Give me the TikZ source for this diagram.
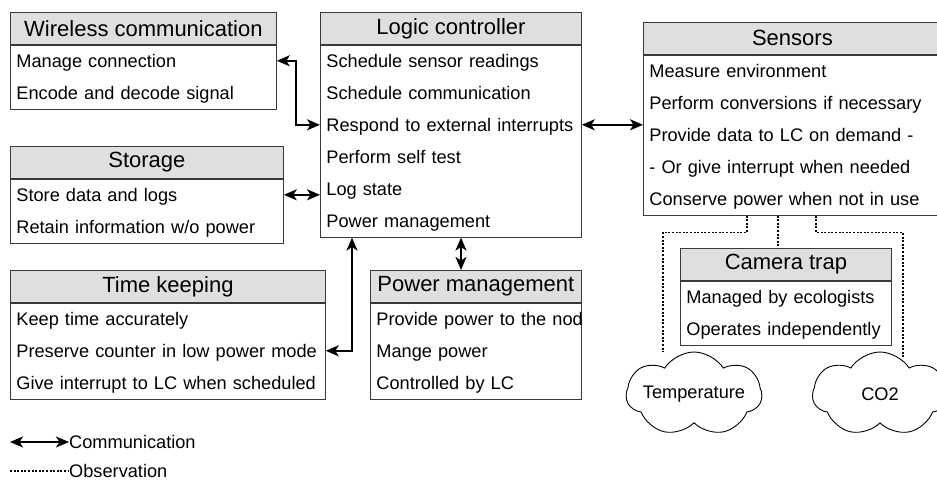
\documentclass[tikz,border=0pt]{standalone}
\usepackage{fontspec}
\setmainfont{Liberation Sans}
\usepackage{xcolor}
\usepackage{tikz}
\usetikzlibrary{arrows.meta,positioning,shapes.symbols}

\definecolor{headgray}{HTML}{DFDFDF}
\definecolor{boxline}{HTML}{3A3A3A}

\newcommand{\headfont}{\fontsize{22}{26}\selectfont}
\newcommand{\bodyfont}{\fontsize{18.2}{32}\selectfont}

\begin{document}
\begin{tikzpicture}[
  x=1pt, y=-1pt,
  node distance=0pt,
  head/.style={draw=boxline,line width=0.8pt,fill=headgray,anchor=north west,minimum height=32pt,inner sep=0pt,font=\headfont},
  body/.style={draw=boxline,line width=0.8pt,fill=white,align=left,inner xsep=6pt,inner ysep=0pt,font=\bodyfont,
    execute at begin node=\strut,execute at end node=\strut},
  comm/.style={{Stealth[length=13pt,width=11pt,inset=3.5pt]}-{Stealth[length=13pt,width=11pt,inset=3.5pt]},line width=1.8pt},
  obs/.style={line width=1.8pt,dash pattern=on 2pt off 1.6pt},
  sky/.style={cloud,cloud puffs=7,cloud puff arc=115,cloud ignores aspect,draw,line width=0.9pt,minimum width=135pt,minimum height=84pt,inner sep=0pt,font=\bodyfont}
]
\useasboundingbox (0,0) rectangle (937,481);
\clip (0,0) rectangle (937,481);

% function blocks
\node[head, minimum width=266pt] (wifihead) at (10,12) {Wireless communication};
\node[body, text width=254pt, below=of wifihead] (wifibody) {Manage connection\\Encode and decode signal};

\node[head, minimum width=261pt] (logichead) at (320,12) {Logic controller};
\node[body, text width=249pt, below=of logichead] (logicbody) {Schedule sensor readings\\Schedule communication\\Respond to external interrupts\\Perform self test\\Log state\\Power management};

\node[head, minimum width=298pt] (sensorshead) at (643,22) {Sensors};
\node[body, text width=286pt, below=of sensorshead] (sensorsbody) {Measure environment\\Perform conversions if necessary\\Provide data to LC on demand -\\- Or give interrupt when needed\\Conserve power when not in use};

\node[head, minimum width=273pt] (storagehead) at (10,146) {Storage};
\node[body, text width=261pt, below=of storagehead] (storagebody) {Store data and logs\\Retain information w/o power};

\node[head, minimum width=315pt] (timehead) at (10,270) {Time keeping};
\node[body, text width=303pt, below=of timehead] (timebody) {Keep time accurately\\Preserve counter in low power mode\\Give interrupt to LC when scheduled};

% the first line runs past the box edge and is cut off there
\node[head, minimum width=211pt] (powerhead) at (370,270) {Power management};
\begin{scope}
  \clip ([xshift=-1pt]powerhead.south west) rectangle ([xshift=0.4pt,yshift=-97pt]powerhead.south east);
  \node[body, text width=199pt, below=of powerhead] (powerbody) {\mbox{Provide power to the node}\\Mange power\\Controlled by LC};
\end{scope}

\node[head, minimum width=211pt] (camerahead) at (680,248) {Camera trap};
\node[body, text width=199pt, below=of camerahead] (camerabody) {Managed by ecologists\\Operates independently};

\node[sky] (tempcloud) at (694,394) {Temperature};
\node[sky] (co2cloud) at (880,394) {CO2};

% communication links
\coordinate (wifiport) at ([yshift=-16pt]wifibody.north east);
\coordinate (logicport) at ([yshift=-80pt]logicbody.north west);
\draw[comm] (wifiport) -- ++(19,0) |- (logicport);

\coordinate (storeport) at ([yshift=-16pt]storagebody.north east);
\draw[comm] (storeport) -- (storeport -| logicbody.west);

\coordinate (sensport) at ([yshift=-80pt]logicbody.north east);
\draw[comm] (sensport) -- (sensport -| sensorsbody.west);

\coordinate (timeport) at ([yshift=-48pt]timebody.north east);
\draw[comm] (timeport) -| ([xshift=32pt]logicbody.south west);

\coordinate (powerport) at ([xshift=141pt]logicbody.south west);
\draw[comm] (powerport) -- (powerport |- powerhead.north);

% observation links
\draw[obs] ([xshift=104pt]sensorsbody.south west) -- ++(0,17) -| ([xshift=-31pt]tempcloud.north);
\coordinate (cameraport) at ([xshift=135pt]sensorsbody.south west);
\draw[obs] (cameraport) -- (cameraport |- camerahead.north);
\draw[obs] ([xshift=173pt]sensorsbody.south west) -- ++(0,17) -| ([xshift=23pt,yshift=-5pt]co2cloud.north);

% legend
\coordinate (commtail) at (10,442);
\node[anchor=west,inner sep=0pt,font=\bodyfont] (commlabel) at (69,442) {Communication};
\draw[comm] (commtail) -- (commlabel.west);

\coordinate (obstail) at (10,471);
\node[anchor=west,inner sep=0pt,font=\bodyfont] (obslabel) at (69,471) {Observation};
\draw[obs] (obstail) -- (obslabel.west);
\end{tikzpicture}
\end{document}
